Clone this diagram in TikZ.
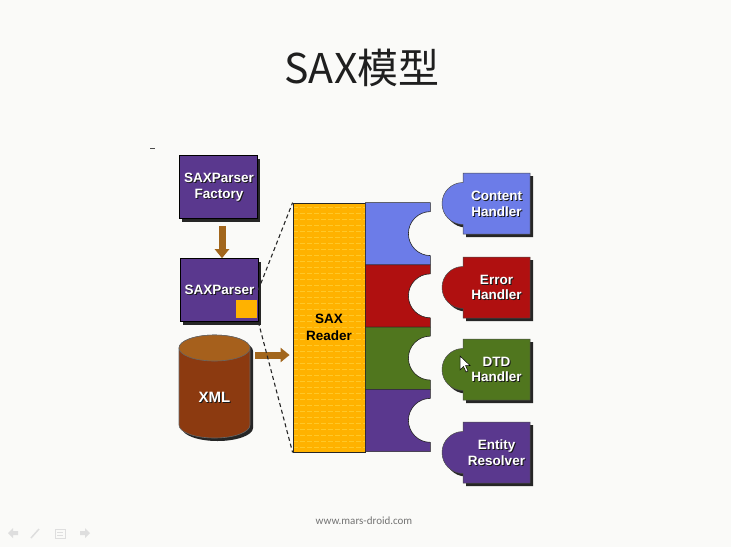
\documentclass[tikz,border=0pt]{standalone}
\usepackage{fontspec}
\setmainfont{Liberation Sans}
\newfontfamily\cjk{Noto Sans CJK SC}
\newfontfamily\footfont{Carlito}
\usetikzlibrary{arrows,arrows.meta,positioning,shadows}
\definecolor{slideBg}{RGB}{250,250,248}
\definecolor{saxPurple}{RGB}{90,56,142}
\definecolor{saxBlue}{RGB}{108,124,232}
\definecolor{saxRed}{RGB}{176,16,16}
\definecolor{saxGreen}{RGB}{80,118,30}
\definecolor{saxOrange}{RGB}{255,178,0}
\definecolor{saxOrangeLite}{RGB}{255,200,40}
\definecolor{saxTan}{RGB}{162,102,28}
\definecolor{xmlBody}{RGB}{140,58,16}
\definecolor{xmlTop}{RGB}{166,96,28}
\definecolor{navGrey}{RGB}{222,222,222}
\tikzset{
  boxText/.style = {align=center, inner sep=0pt, text=white,
    font=\bfseries\fontsize{13.5}{15.7}\selectfont},
  %text shadow under white labels
  textShade/.style = {boxText, text=black!90},
  %purple parser boxes
  parserBox/.style = {draw=black, line width=0.6pt, fill=saxPurple,
    minimum width=78pt, minimum height=63pt, inner sep=0pt,
    drop shadow={shadow xshift=3pt, shadow yshift=-3pt, opacity=1, fill=black!85}},
  cacheBox/.style = {fill=saxOrange, minimum width=21pt, minimum height=18pt,
    inner sep=0pt},
  %sax reader
  readerBox/.style = {draw=black!85, line width=0.8pt, fill=saxOrange,
    minimum width=72pt, minimum height=249pt, inner sep=0pt, align=center,
    font=\bfseries\fontsize{13.5}{16.7}\selectfont},
  slotShape/.style = {draw=black!85, line width=0.6pt},
  handlerShape/.style = {draw=black!70, line width=0.5pt,
    drop shadow={shadow xshift=3pt, shadow yshift=-3pt, opacity=1, fill=black!85}},
  feedArrow/.style = {draw=saxTan, line width=7pt, -{Triangle[width=14pt,length=9pt]}},
  zoomLine/.style = {black!85, line width=1.1pt, dash pattern=on 4pt off 3pt}
}
\begin{document}
\begin{tikzpicture}[x=1pt,y=1pt]
\useasboundingbox[fill=slideBg] (0,0) rectangle (731,-547);
% title and footer
\node[font=\cjk\fontsize{41}{45}\selectfont, text=black!88] (title) at (362,-68) {SAX模型};
\node[font=\footfont\fontsize{11}{13}\selectfont, text=black!55] (footer) at (364,-521) {www.mars-droid.com};
\draw[black!70, line width=0.8pt] (150,-148) -- (155,-148);

% parser side
\node[parserBox] (factory) at (218,-187) {};
\node[textShade] (factory-shade) at (220,-188) {SAXParser\\Factory};
\node[boxText] (factory-text) at (219,-187) {SAXParser\\Factory};
\node[parserBox] (parser) at (219,-290) {};
\node[cacheBox, anchor=south east] (cache) at ([xshift=-1pt,yshift=4pt]parser.south east) {};
\node[textShade] (parser-shade) at (220.5,-291) {SAXParser};
\node[boxText] (parser-text) at (219.5,-290) {SAXParser};
\draw[feedArrow] ([xshift=4pt,yshift=-7pt]factory.south) -- ([xshift=3pt]parser.north);

% xml document
\path[fill=xmlBody, draw=black!60, line width=0.6pt,
  drop shadow={shadow xshift=3pt, shadow yshift=-3pt, opacity=1, fill=black!85}]
  (179,-348) -- (179,-425) arc (180:360:35.5 and 13) -- (250,-348)
  arc (0:180:35.5 and 13) -- cycle;
\draw[fill=xmlTop, draw=black!60, line width=0.6pt] (214.5,-348) ellipse (35.5 and 13);
\node[textShade, font=\bfseries\fontsize{15}{17}\selectfont] (xml-shade) at (215.5,-398) {XML};
\node[boxText, font=\bfseries\fontsize{15}{17}\selectfont] (xml) at (214.5,-397) {XML};

% reader and its handler slots
\node[readerBox,
  path picture={\foreach \i in {4,10,...,250}
    \draw[saxOrangeLite, line width=0.7pt, dash pattern=on 5pt off 2pt]
      ([yshift=-\i pt]path picture bounding box.north west) -- ++(72,0);}]
  (reader) at (329,-327.5) {SAX\\Reader};
\foreach \k/\col in {0/saxBlue,1/saxRed,2/saxGreen,3/saxPurple}{
  \pgfmathsetmacro\t{62.25*\k}
  \draw[slotShape, fill=\col] ([yshift=-\t pt]reader.north east) -- ++(65,0)
    -- ++(0,-9) arc (90:270:22) -- ++(0,-9.25) -- ++(-65,0) -- cycle;
}
\coordinate (xmlOut) at (255,-355);
\draw[feedArrow] (xmlOut) -- ([xshift=-3pt]xmlOut -| reader.west);
\draw[zoomLine] (parser.east) -- (reader.north west);
\draw[zoomLine] (parser.south east) -- (reader.south west);

% handlers
\foreach \hname/\hcol/\htop/\htext in {content/saxBlue/173/{Content\\Handler},
    error/saxRed/257/{Error\\Handler}, dtd/saxGreen/339/{DTD\\Handler},
    entity/saxPurple/422/{Entity\\Resolver}}{
  \draw[handlerShape, fill=\hcol] (530,-\htop) -- (463,-\htop) -- ++(0,-9.5)
    arc (90:270:21) -- ++(0,-9.5) -- (530,-\htop-61) -- cycle;
  \node[textShade] (\hname-shade) at (497.5,-\htop-31.5) {\htext};
  \node[boxText] (\hname) at (496.5,-\htop-30.5) {\htext};
}

% mouse pointer
\draw[black, fill=white, line width=0.5pt] (460,-356) -- (460,-370) -- (463.5,-366.5)
  -- (466,-372) -- (468,-371) -- (465.5,-365.5) -- (470,-365.5) -- cycle;

% slide controls
\fill[navGrey] (8,-533) -- (13,-528) -- (13,-531) -- (18,-531) -- (18,-535)
  -- (13,-535) -- (13,-538) -- cycle;
\draw[navGrey, line width=1.5pt] (31,-538) -- (39,-529);
\draw[navGrey, line width=1pt] (55,-529) rectangle (65,-538);
\draw[navGrey, line width=1pt] (57,-532) -- (63,-532) (57,-535) -- (63,-535);
\fill[navGrey] (90,-533) -- (85,-528) -- (85,-531) -- (80,-531) -- (80,-535)
  -- (85,-535) -- (85,-538) -- cycle;
\end{tikzpicture}
\end{document}
